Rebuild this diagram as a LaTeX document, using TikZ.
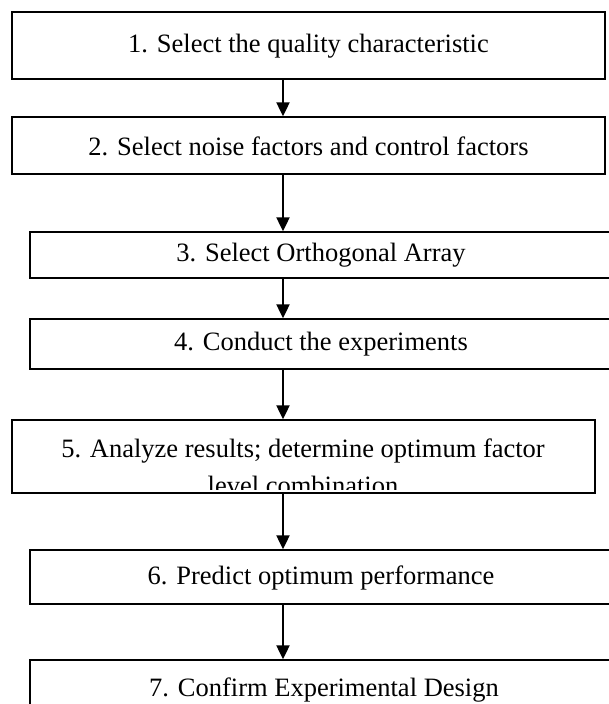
\documentclass[tikz,border=0pt]{standalone}
\usepackage{fontspec}
\setmainfont{Liberation Serif}
\usetikzlibrary{arrows.meta}
\tikzset{
  stepbox/.style={draw=black, line width=1.4pt, rectangle, inner sep=0pt, fill=white},
  lbl/.style={inner sep=0pt, font=\fontsize{26.5}{30.5}\selectfont, align=center},
  arr/.style={line width=2.2pt, -{Triangle[length=14pt,width=13pt]}}
}
\begin{document}
\begin{tikzpicture}[x=1pt,y=-1pt]
\useasboundingbox (0,0) rectangle (608,704);
\coordinate (ax) at (283,0);
% boxes
\node[stepbox, minimum width=593pt, minimum height=67pt] (b1) at (308.5,45.5) {};
\node[lbl] (t1) at (308.5,46) {1. Select the quality characteristic};
\node[stepbox, minimum width=593pt, minimum height=57pt] (b2) at (308.5,145.5) {};
\node[lbl] (t2) at (308.5,146) {2. Select noise factors and control factors};
\node[stepbox, minimum width=582pt, minimum height=46pt] (b3) at (321,255) {};
\node[lbl] (t3) at (321,255) {3. Select Orthogonal Array};
\node[stepbox, minimum width=582pt, minimum height=50pt] (b4) at (321,344) {};
\node[lbl] (t4) at (321,344.5) {4. Conduct the experiments};
\node[stepbox, minimum width=583pt, minimum height=73pt] (b5) at (303.5,456.5) {};
\begin{scope}
  \clip (13,421) rectangle (594,489);
  \node[lbl, anchor=base] (t5a) at (303,457) {5. Analyze results; determine optimum factor};
  \node[lbl, anchor=base] (t5b) at (303,494) {level combination};
\end{scope}
\node[stepbox, minimum width=582pt, minimum height=54pt] (b6) at (321,577) {};
\node[lbl] (t6) at (321,577.5) {6. Predict optimum performance};
\node[stepbox, minimum width=582pt, minimum height=80pt] (b7) at (321,700) {};
\node[lbl] (t7) at (324,690) {7. Confirm Experimental Design};
% arrows
\draw[arr] (b1.south -| ax) -- (b2.north -| ax);
\draw[arr] (b2.south -| ax) -- (b3.north -| ax);
\draw[arr] (b3.south -| ax) -- (b4.north -| ax);
\draw[arr] (b4.south -| ax) -- (b5.north -| ax);
\draw[arr] (b5.south -| ax) -- (b6.north -| ax);
\draw[arr] (b6.south -| ax) -- (b7.north -| ax);
\end{tikzpicture}
\end{document}
